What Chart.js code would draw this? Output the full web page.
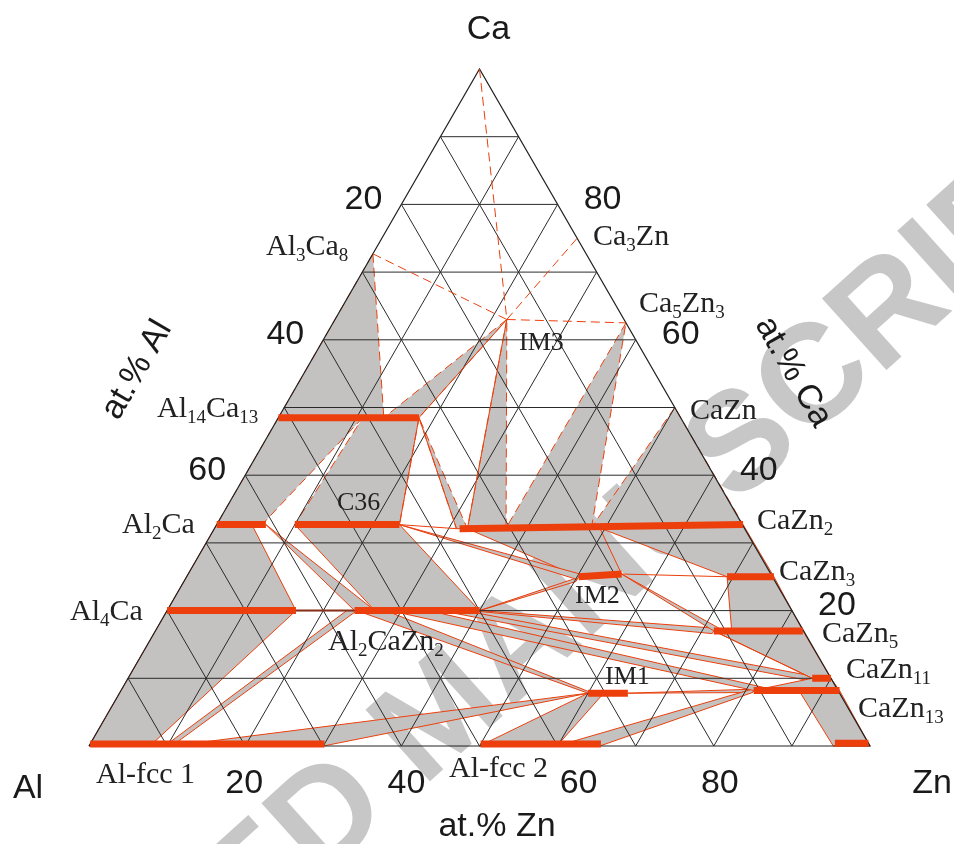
<!DOCTYPE html>
<html>
<head>
<meta charset="utf-8">
<script src="https://cdn.jsdelivr.net/npm/chart.js@4.4.0/dist/chart.umd.min.js"></script>
<style>
html,body{margin:0;padding:0;background:#fff;}
canvas{display:block;}
</style>
</head>
<body>
<canvas id="c" width="954" height="844"></canvas>
<script>
// Isothermal section Al–Ca–Zn. Every composition is written as [at.% Zn, at.% Ca].

const gridValues = [10, 20, 30, 40, 50, 60, 70, 80, 90];
const tickValues = [20, 40, 60, 80];
const leftTickValues = [20, 40, 60];          // at.% Al

// single-phase points
const CA = [0, 100];
const AL3CA8 = [0, 72.7];
const IM3 = [22, 63];
const CA3ZN = [25, 75];
const CA5ZN3 = [37.5, 62.5];
const CAZN = [50, 50];

// homogeneity ranges drawn as thick bars: [start, end]
const phaseBars = [
  [[0, 48.5], [18, 48.5]],        // Al14Ca13
  [[0, 32.7], [6.3, 32.7]],       // Al2Ca
  [[10, 32.7], [23.4, 32.7]],     // C36
  [[0, 20], [16.5, 20]],          // Al4Ca
  [[24, 20], [40, 20]],           // Al2CaZn2
  [[0, 0.3], [30, 0.3]],          // Al-fcc 1
  [[50, 0.3], [65.4, 0.3]],       // Al-fcc 2
  [[95.3, 0.4], [99.6, 0.4]],     // (Zn)
  [[31.4, 32.1], [67.4, 32.7]],   // CaZn2
  [[69.2, 25], [75.2, 25]],       // CaZn3
  [[71.5, 17], [82.9, 17]],       // CaZn5
  [[87.6, 10], [90, 10]],         // CaZn11
  [[81, 8.2], [92, 8.2]],         // CaZn13
  [[60, 7.8], [65.1, 7.8]],       // IM1
  [[50.2, 25], [55.5, 25.4]]      // IM2
];

// two-phase fields bounded by solid tie lines
const twoPhaseFields = [
  [[0, 32.7], [4.5, 32.7], [16.5, 20], [0, 20]],            // Al2Ca + Al4Ca
  [[6.3, 32.7], [24, 20], [26.6, 20]],                       // Al2Ca + Al2CaZn2
  [[10, 32.7], [23.4, 32.7], [40, 20], [26.6, 20]],          // C36 + Al2CaZn2
  [[23.4, 32.7], [50.2, 25.4], [50.2, 24.6]],                // C36 + IM2
  [[40, 20], [50.2, 24.9], [50.2, 24.3]],                    // Al2CaZn2 + IM2
  [[32.4, 32.1], [49.3, 32.2], [55.5, 25.4], [50.2, 25]],    // CaZn2 + IM2
  [[49.3, 32.2], [67.4, 32.7], [75.2, 25], [69.2, 25]],      // CaZn2 + CaZn3
  [[69.2, 25], [75.2, 25], [82.9, 17], [73.8, 17]],          // CaZn3 + CaZn5
  [[55.5, 25.4], [71.5, 17], [72.8, 17]],                    // IM2 + CaZn5
  [[71.5, 17], [82.9, 17], [90, 10], [87.6, 10]],            // CaZn5 + CaZn11
  [[87.6, 10], [90, 10], [92, 8.2], [81, 8.2]],              // CaZn11 + CaZn13
  [[86.8, 8.2], [92, 8.2], [100, 0], [95.3, 0]],             // CaZn13 + (Zn)
  [[0, 20], [16.5, 20], [7.8, 0], [0, 0]],                   // Al4Ca + Al
  [[23, 20], [24.3, 20], [10.6, 0], [9.7, 0]],               // Al2CaZn2 + Al
  [[10.6, 0], [30, 0], [60, 7.8]],                           // Al + IM1
  [[24.3, 20], [28, 20], [60.6, 7.8], [60, 7.8]],            // Al2CaZn2 + IM1
  [[28.5, 20], [33.5, 20], [84, 8.2], [81, 8.2]],            // Al2CaZn2 + CaZn13
  [[35, 20], [38, 20], [87.6, 10.3], [87.6, 9.6]],           // Al2CaZn2 + CaZn11
  [[38.8, 20], [40, 20], [71.5, 17.4], [71.5, 16.6]],        // Al2CaZn2 + CaZn5
  [[50, 0], [59.9, 0], [62, 7.8], [60, 7.8]],                // Al-fcc 2 + IM1
  [[59.9, 0], [65.4, 0], [81, 7.9], [81, 8.5]],              // Al-fcc 2 + CaZn13
  [[65.1, 7.8], [81, 8.4], [81, 7.9]]                        // IM1 + CaZn13
];

// two-phase fields bounded by estimated (dashed) lines
const estimatedFields = [
  [AL3CA8, [13.5, 48.5], [0, 48.5]],                         // Al3Ca8 + Al14Ca13
  [IM3, [13.5, 48.5], [18, 48.5]],                           // IM3 + Al14Ca13
  [IM3, [32.4, 32.1], [37.3, 32.2]],                         // IM3 + CaZn2
  [CA5ZN3, [37.3, 32.2], [48.2, 32.3]],                      // Ca5Zn3 + CaZn2
  [CAZN, [48.2, 32.3], [67.4, 32.7]],                        // CaZn + CaZn2
  [[0, 48.5], [10.8, 48.5], [5.8, 32.7], [0, 32.7]],         // Al14Ca13 + Al2Ca
  [[10.8, 48.5], [18, 48.5], [23.4, 32.7], [10, 32.7]],      // Al14Ca13 + C36
  [[18, 48.5], [31, 32.1], [32.4, 32.1]]                     // Al14Ca13 + CaZn2
];

// extra tie lines
const tieLines = [
  [IM3, [18, 48.5]],
  [IM3, [32.4, 32.1]],
  [[18, 48.5], [23.4, 32.7]],
  [[18, 48.5], [31, 32.1]],
  [[23.4, 32.7], [31, 32.1]],
  [[71.5, 17], [87.6, 10]],
  [[55.5, 25.4], [69.2, 25]]
];
const darkTieLines = [
  [[16.5, 20], [24, 20]]
];
const dashedLines = [
  [CA, IM3],
  [AL3CA8, IM3],
  [IM3, CA3ZN],
  [IM3, CA5ZN3]
];

const RED = '#ec3f0c';
const GREY = '#c4c2c0';
const SQ3 = Math.sqrt(3) / 2;
const toXY = ([z, c]) => ({ x: z + c / 2, y: c * SQ3 });

function closedPath(poly) {
  const pts = poly.map(toXY);
  pts.push(toXY(poly[0]));
  return pts;
}
function segmentPath(segments) {
  const pts = [];
  segments.forEach(s => {
    s.forEach(p => pts.push(toXY(p)));
    pts.push({ x: null, y: null });
  });
  return pts;
}

// triangular grid built from the grid values
const gridSegments = [];
gridValues.forEach(v => {
  gridSegments.push([[0, v], [100 - v, v]]);          // constant Ca
  gridSegments.push([[v, 0], [v, 100 - v]]);          // constant Zn
  gridSegments.push([[100 - v, 0], [0, 100 - v]]);    // constant Al
});
const outline = [[0, 0], [100, 0], [0, 100]];

const base = { showLine: true, pointRadius: 0, pointHoverRadius: 0, clip: false, tension: 0, spanGaps: false };
const datasets = [];

twoPhaseFields.forEach(f => datasets.push(Object.assign({}, base, {
  data: closedPath(f), fill: 'shape', backgroundColor: GREY,
  borderColor: RED, borderWidth: 1, order: 10
})));
estimatedFields.forEach(f => datasets.push(Object.assign({}, base, {
  data: closedPath(f), fill: 'shape', backgroundColor: GREY,
  borderColor: RED, borderWidth: 1, borderDash: [9, 5], order: 10
})));
datasets.push(Object.assign({}, base, {
  data: segmentPath(gridSegments), borderColor: '#2a2a2a', borderWidth: 1, fill: false, order: 6
}));
datasets.push(Object.assign({}, base, {
  data: closedPath(outline), borderColor: '#222', borderWidth: 1.2, fill: false, order: 6
}));
datasets.push(Object.assign({}, base, {
  data: segmentPath(tieLines), borderColor: RED, borderWidth: 1, fill: false, order: 4
}));
datasets.push(Object.assign({}, base, {
  data: segmentPath(darkTieLines), borderColor: '#8a3018', borderWidth: 2, fill: false, order: 4
}));
datasets.push(Object.assign({}, base, {
  data: segmentPath(dashedLines), borderColor: RED, borderWidth: 1, borderDash: [9, 5], fill: false, order: 4
}));
datasets.push(Object.assign({}, base, {
  data: segmentPath(phaseBars), borderColor: RED, borderWidth: 7, borderCapStyle: 'butt', fill: false, order: 1
}));

const SANS = '"Liberation Sans", Arial, sans-serif';
const SERIF = '"Liberation Serif", "Times New Roman", serif';

// phase labels: text with _n subscripts, left x, baseline y, font size
const phaseLabels = [
  ['Al_3Ca_8', 266, 255, 30],
  ['Ca_3Zn', 593, 245, 30],
  ['Ca_5Zn_3', 639, 312, 30],
  ['IM3', 519, 350, 26],
  ['CaZn', 690, 419, 30],
  ['Al_{14}Ca_{13}', 157, 417, 30],
  ['C36', 337, 510, 26],
  ['Al_2Ca', 122, 533, 30],
  ['CaZn_2', 757, 529, 30],
  ['CaZn_3', 779, 580, 30],
  ['IM2', 575, 603, 26],
  ['Al_4Ca', 70, 620, 30],
  ['Al_2CaZn_2', 328, 650, 30],
  ['CaZn_5', 822, 642, 30],
  ['IM1', 605, 684, 26],
  ['CaZn_{11}', 846, 678, 30],
  ['CaZn_{13}', 858, 717, 30],
  ['Al-fcc 1', 96, 783, 30],
  ['Al-fcc 2', 449, 777, 30]
];
// horizontal nudges of the at.% Zn tick numbers
const bottomTickShift = [-1, 5, 21, 6];

function drawFormula(ctx, text, x, y, size) {
  const parts = text.match(/_\{\d+\}|_\d|[^_]+/g);
  let cx = x;
  ctx.textAlign = 'left';
  ctx.textBaseline = 'alphabetic';
  parts.forEach(p => {
    if (p[0] === '_') {
      const s = p.replace(/[_{}]/g, '');
      ctx.font = Math.round(size * 0.62) + 'px ' + SERIF;
      ctx.fillText(s, cx, y + size * 0.2);
      cx += ctx.measureText(s).width;
    } else {
      ctx.font = size + 'px ' + SERIF;
      ctx.fillText(p, cx, y);
      cx += ctx.measureText(p).width;
    }
  });
}

const textPlugin = {
  id: 'ternaryText',
  beforeDatasetsDraw(chart) {
    // faint diagonal stamp behind the diagram
    const ctx = chart.ctx;
    const ang = -42 * Math.PI / 180;
    ctx.save();
    ctx.fillStyle = 'rgba(196,196,196,0.95)';
    ctx.font = 'bold 140px ' + SANS;
    ctx.translate(-204, 1300);
    ctx.rotate(ang);
    ctx.textAlign = 'left';
    ctx.textBaseline = 'middle';
    ctx.fillText('ACCEPTED MANUSCRIPT', 0, 0);
    ctx.restore();
  },
  afterDatasetsDraw(chart) {
    const ctx = chart.ctx;
    const sx = chart.scales.x, sy = chart.scales.y;
    const px = p => { const q = toXY(p); return [sx.getPixelForValue(q.x), sy.getPixelForValue(q.y)]; };
    ctx.save();
    ctx.fillStyle = '#1a1a1a';
    ctx.textAlign = 'center';
    ctx.textBaseline = 'middle';
    ctx.font = '34px ' + SANS;
    leftTickValues.forEach(a => { const [x, y] = px([0, 100 - a]); ctx.fillText(String(a), x - 38, y - 5); });
    tickValues.forEach(c => { const [x, y] = px([100 - c, c]); ctx.fillText(String(c), x + 45, y - 5); });
    tickValues.forEach((z, i) => { const [x, y] = px([z, 0]); ctx.fillText(String(z), x + bottomTickShift[i], y + 38); });
    // vertices
    let [x, y] = px([0, 100]); ctx.fillText('Ca', x + 9, y - 39);
    [x, y] = px([0, 0]); ctx.fillText('Al', x - 61, y + 43);
    [x, y] = px([100, 0]); ctx.fillText('Zn', x + 62, y + 38);
    // axis titles
    ctx.fillText('at.% Zn', 497, 827);
    ctx.save(); ctx.translate(137, 370); ctx.rotate(-Math.PI / 3); ctx.fillText('at.% Al', 0, 0); ctx.restore();
    ctx.save(); ctx.translate(793, 372); ctx.rotate(Math.PI / 3); ctx.fillText('at.% Ca', 0, 0); ctx.restore();
    ctx.fillStyle = '#222';
    phaseLabels.forEach(([t, lx, ly, s]) => drawFormula(ctx, t, lx, ly, s));
    ctx.restore();
  }
};

new Chart(document.getElementById('c'), {
  type: 'scatter',
  data: { datasets },
  options: {
    responsive: false,
    animation: false,
    events: [],
    layout: { padding: { left: 89, right: 84, top: 69, bottom: 98 } },
    scales: {
      x: { type: 'linear', min: 0, max: 100, display: false },
      y: { type: 'linear', min: 0, max: 100 * SQ3, display: false }
    },
    plugins: { legend: { display: false }, tooltip: { enabled: false } }
  },
  plugins: [textPlugin]
});
</script>
</body>
</html>
